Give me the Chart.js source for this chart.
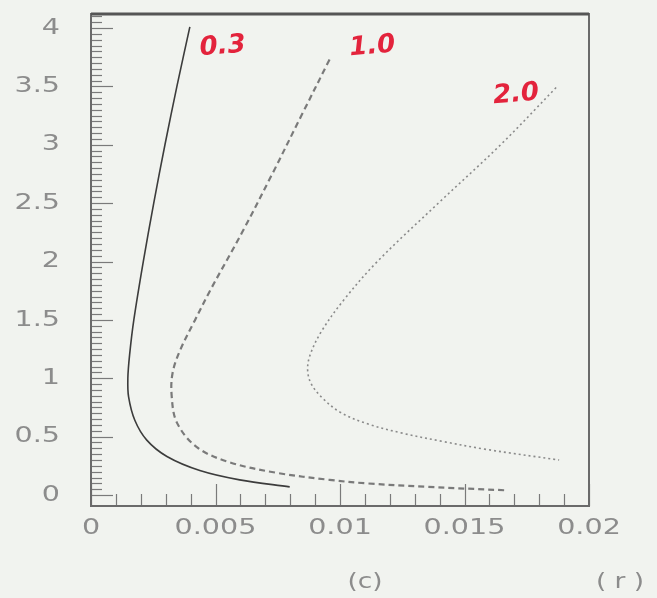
<!DOCTYPE html>
<html>
<head>
<meta charset="utf-8">
<script src="https://cdn.jsdelivr.net/npm/chart.js@4/dist/chart.umd.min.js"></script>
<style>
  html, body { margin: 0; padding: 0; background: #f1f3ef; }
  #wrap { width: 657px; height: 598px; position: relative; }
</style>
</head>
<body>
<div id="wrap"><canvas id="chart"></canvas></div>
<script>
// curve for 0.3 (solid)
const solidX = [0.00397, 0.00345, 0.00297, 0.00252, 0.00210, 0.00172, 0.00155, 0.00148, 0.00151, 0.00176, 0.00224, 0.00305, 0.00437, 0.00597, 0.00798];
const solidY = [4.01, 3.5, 3.0, 2.5, 2.0, 1.5, 1.2, 1.0, 0.84, 0.64, 0.47, 0.33, 0.21, 0.13, 0.07];

// curve for 1.0 (dashed)
const dashX = [0.00958, 0.00845, 0.00728, 0.00607, 0.00478, 0.00418, 0.00360, 0.00328, 0.00324, 0.00345, 0.00425, 0.00557, 0.00746, 0.00958, 0.01106, 0.0135, 0.01671];
const dashY = [3.73, 3.25, 2.75, 2.25, 1.75, 1.5, 1.25, 1.05, 0.85, 0.62, 0.41, 0.28, 0.19, 0.13, 0.10, 0.07, 0.04];

// curve for 2.0 (dotted)
const dotX = [0.01868, 0.01645, 0.01395, 0.01150, 0.01015, 0.00925, 0.00880, 0.00870, 0.00885, 0.00930, 0.01000, 0.01110, 0.01250, 0.01410, 0.01590, 0.01880];
const dotY = [3.49, 3.0, 2.5, 2.0, 1.67, 1.4, 1.2, 1.07, 0.95, 0.83, 0.71, 0.61, 0.53, 0.46, 0.39, 0.30];

// tick labels
const xTicks = [0, 0.005, 0.01, 0.015, 0.02];
const xTickLabels = ["0", "0.005", "0.01", "0.015", "0.02"];
const yTicks = [0, 0.5, 1, 1.5, 2, 2.5, 3, 3.5, 4];
const yTickLabels = ["0", "0.5", "1", "1.5", "2", "2.5", "3", "3.5", "4"];

// handwritten curve labels
const curveNames = ["0.3", "1.0", "2.0"];
const curveNameX = [0.00529, 0.0113, 0.01707];
const curveNameY = [3.84, 3.84, 3.43];

const pts = (xs, ys) => xs.map((x, i) => ({ x: x, y: ys[i] }));

const TEXT_GRAY = "#8c8c8c";

// frame, inside ticks, labels (PAW style)
const framePlugin = {
  id: "frame",
  afterDatasetsDraw(chart) {
    const { ctx, chartArea: a, scales: { x, y } } = chart;
    ctx.save();

    // ticks on left axis
    ctx.strokeStyle = "#7a7a7a";
    ctx.lineWidth = 1.2;
    for (let i = 0; i <= 82; i++) {
      const v = i * 0.05;
      const py = Math.round(y.getPixelForValue(v)) + 0.5;
      const len = (i % 10 === 0) ? 22 : 11;
      ctx.beginPath();
      ctx.moveTo(a.left, py);
      ctx.lineTo(a.left + len, py);
      ctx.stroke();
    }
    // ticks on bottom axis
    for (let i = 0; i <= 20; i++) {
      const px = Math.round(x.getPixelForValue(i * 0.001)) + 0.5;
      const len = (i % 5 === 0) ? 22 : 12;
      ctx.beginPath();
      ctx.moveTo(px, a.bottom);
      ctx.lineTo(px, a.bottom - len);
      ctx.stroke();
    }

    // frame
    ctx.strokeStyle = "#6a6a6a";
    ctx.lineWidth = 2;
    ctx.strokeRect(a.left, a.top, a.right - a.left, a.bottom - a.top);
    ctx.strokeStyle = "#555";
    ctx.lineWidth = 3;
    ctx.beginPath();
    ctx.moveTo(a.left, a.top);
    ctx.lineTo(a.right, a.top);
    ctx.stroke();

    // tick labels, wide gray font
    const sx = 1.3;
    ctx.fillStyle = TEXT_GRAY;
    ctx.font = "22px 'DejaVu Sans'";
    ctx.textBaseline = "middle";
    xTicks.forEach((v, i) => {
      const px = x.getPixelForValue(v);
      ctx.save();
      ctx.translate(px, 528);
      ctx.scale(sx, 1);
      ctx.textAlign = "center";
      ctx.fillText(xTickLabels[i], 0, 0);
      ctx.restore();
    });
    yTicks.forEach((v, i) => {
      const py = y.getPixelForValue(v);
      ctx.save();
      ctx.translate(60, py);
      ctx.scale(sx, 1);
      ctx.textAlign = "right";
      ctx.fillText(yTickLabels[i], 0, 0);
      ctx.restore();
    });

    // axis captions
    [["(c)", 365], ["( r )", 620]].forEach(([t, cx]) => {
      ctx.save();
      ctx.translate(cx, 582);
      ctx.scale(1.2, 1);
      ctx.textAlign = "center";
      ctx.fillText(t, 0, 0);
      ctx.restore();
    });

    // red handwritten names
    ctx.fillStyle = "#e3233c";
    ctx.font = "italic bold 26px 'DejaVu Sans'";
    curveNames.forEach((t, i) => {
      ctx.save();
      ctx.translate(x.getPixelForValue(curveNameX[i]), y.getPixelForValue(curveNameY[i]));
      ctx.rotate(-0.08);
      ctx.textAlign = "center";
      ctx.fillText(t, 0, 0);
      ctx.restore();
    });

    ctx.restore();
  }
};

new Chart(document.getElementById("chart"), {
  type: "line",
  data: {
    datasets: [
      {
        label: "0.3",
        data: pts(solidX, solidY),
        borderColor: "#3c3c3c",
        borderWidth: 1.6,
        tension: 0.35
      },
      {
        label: "1.0",
        data: pts(dashX, dashY),
        borderColor: "#7a7a7a",
        borderWidth: 2.2,
        borderDash: [6, 4],
        tension: 0.35
      },
      {
        label: "2.0",
        data: pts(dotX, dotY),
        borderColor: "#8a8a8a",
        borderWidth: 1.6,
        borderDash: [2, 3],
        tension: 0.35
      }
    ]
  },
  options: {
    responsive: true,
    maintainAspectRatio: false,
    animation: false,
    layout: { padding: { left: 91, top: 14, right: 68, bottom: 92 } },
    elements: { point: { radius: 0 }, line: { fill: false } },
    scales: {
      x: { type: "linear", min: 0, max: 0.02, display: false },
      y: { type: "linear", min: -0.094, max: 4.12, display: false }
    },
    plugins: {
      legend: { display: false },
      tooltip: { enabled: false }
    }
  },
  plugins: [framePlugin]
});
</script>
</body>
</html>
